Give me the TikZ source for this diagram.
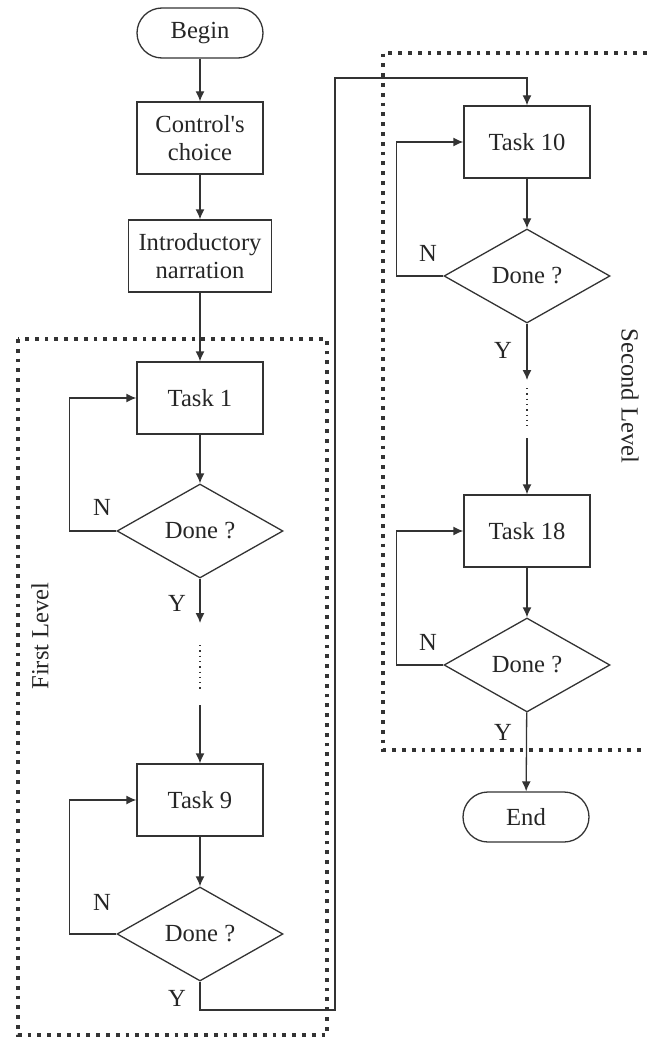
\documentclass[tikz,border=0pt]{standalone}
\usepackage{fontspec}
\setmainfont{Liberation Serif}
\usepackage{tikz}
\usetikzlibrary{shapes.geometric,arrows.meta}

\begin{document}
\begin{tikzpicture}
  [x=0.5pt,y=-0.5pt,>={Latex[length=5pt,width=4.5pt]},line width=0.65pt,color=black!80,
   every node/.style={font=\fontsize{12.3}{14}\selectfont,text=black!85},
   task/.style={draw,rectangle,minimum width=63pt,minimum height=36pt,align=center,inner sep=2pt},
   term/.style={draw,rectangle,rounded corners=12.5pt,minimum width=63pt,minimum height=25pt},
   check/.style={draw,diamond,minimum width=83pt,minimum height=47pt,inner sep=0pt},
   levelbox/.style={line width=1.9pt,dash pattern=on 1.9pt off 3pt}]
  \useasboundingbox (0,0) rectangle (647,1038);

  % level frames
  \draw[levelbox] (18,339) rectangle (327,1035);
  \draw[levelbox] (647,53) -| (383,750) -- (647,750);
  \node[rotate=90]  (lv1) at (40,636)  {First Level};
  \node[rotate=-90] (lv2) at (630,396) {Second Level};

  \node[term] (begin) at (200,33)    {Begin};
  \node[task] (ctrl)  at (200,138)   {Control\textquotesingle s\\choice};
  \node[task,minimum width=71.5pt] (intro) at (200,256) {Introductory\\narration};
  \node[task] (t1)    at (200,398)   {Task 1};
  \node[check] (d1)   at (200,531)   {Done ?};
  \node[task] (t9)    at (200,800)   {Task 9};
  \node[check] (d9)   at (200,934)   {Done ?};
  \node[task] (t10)   at (527,142)   {Task 10};
  \node[check] (d10)  at (527,276)   {Done ?};
  \node[task] (t18)   at (527,531)   {Task 18};
  \node[check] (d18)  at (527,665)   {Done ?};
  \node[term] (end)   at (526,817)   {End};

  \node (n1)  at (102,507) {N};
  \node (y1)  at (177,603) {Y};
  \node (n9)  at (102,902) {N};
  \node (y9)  at (177,998) {Y};
  \node (n10) at (428,253) {N};
  \node (y10) at (503,350) {Y};
  \node (n18) at (428,642) {N};
  \node (y18) at (503,732) {Y};

  \coordinate (a1) at (200,623);
  \coordinate (g1) at (200,645);
  \coordinate (g2) at (200,690);
  \coordinate (b1) at (200,705);
  \coordinate (a10) at (527,380);
  \coordinate (g3) at (527,388);
  \coordinate (g4) at (527,430);
  \coordinate (b10) at (527,438);
  \coordinate (c1) at (335,1010);
  \coordinate (c2) at (335,78);

  \foreach \from/\to in {begin/ctrl,ctrl/intro,intro/t1,t1/d1,d1/a1,b1/t9,t9/d9,t10/d10,d10/a10,b10/t18,t18/d18,d18/end}
    \draw[->] (\from) -- (\to);

  \foreach \dn/\tn in {d1/t1,d9/t9,d10/t10,d18/t18}
    \draw[->] (\dn.west) -- ++(-47,0) |- (\tn.west);

  \draw[dotted] (g1) -- (g2);
  \draw[dotted] (g3) -- (g4);

  \draw[->] (d9.south) |- (c1) -- (c2) -| (t10.north);
\end{tikzpicture}
\end{document}
